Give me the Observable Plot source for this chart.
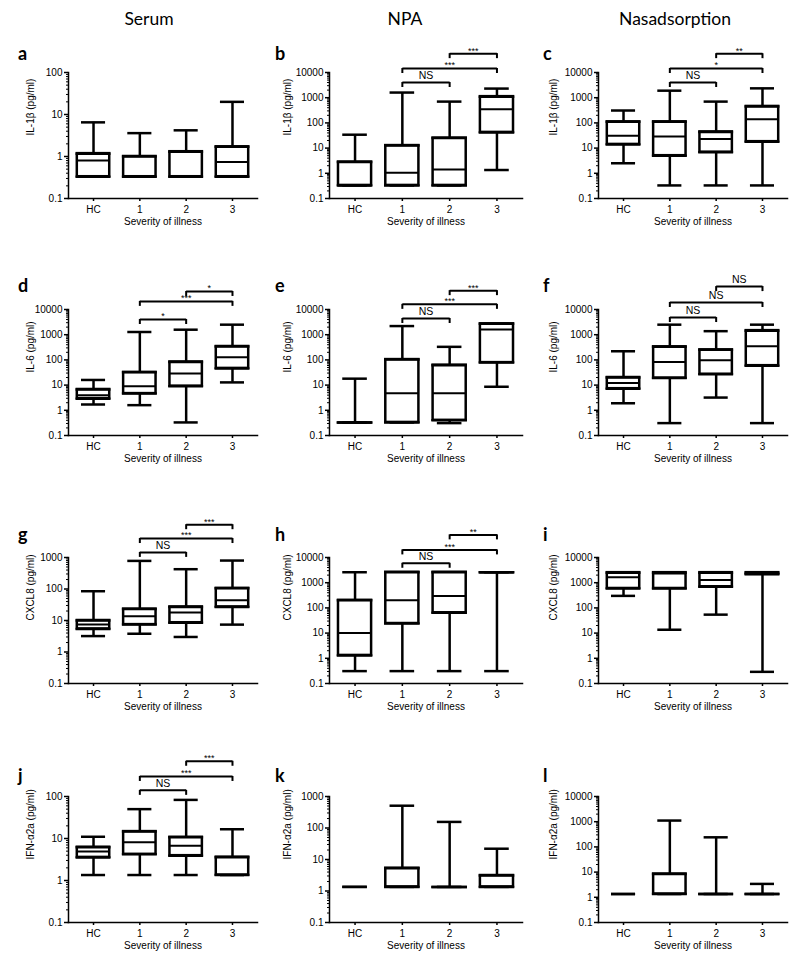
<!DOCTYPE html>
<html><head><meta charset="utf-8">
<script src="https://cdn.jsdelivr.net/npm/d3@7"></script>
<script src="https://cdn.jsdelivr.net/npm/@observablehq/plot@0.6"></script>
<style>
body{margin:0;background:#fff;}
#wrap{position:relative;width:800px;height:966px;overflow:hidden;background:#fff;}
</style></head><body><div id="wrap"></div>
<script>
// ---- data ----
const groups = ["HC", "1", "2", "3"];
const columnTitles = ["Serum", "NPA", "Nasadsorption"];
const panelLetters = ["a","b","c","d","e","f","g","h","i","j","k","l"];
const yLabels = [
  "IL-1β (pg/ml)","IL-1β (pg/ml)","IL-1β (pg/ml)",
  "IL-6 (pg/ml)","IL-6 (pg/ml)","IL-6 (pg/ml)",
  "CXCL8 (pg/ml)","CXCL8 (pg/ml)","CXCL8 (pg/ml)",
  "IFN-α2a (pg/ml)","IFN-α2a (pg/ml)","IFN-α2a (pg/ml)"];
const yMaxes = [100, 10000, 10000, 10000, 10000, 10000, 1000, 10000, 10000, 100, 1000, 10000];
const xTitle = "Severity of illness";

// box stats per group: [min, q1, median, q3, max]
const statsA = [[0.33,0.33,0.8,1.17,6.5],[0.33,0.33,0.33,1.0,3.6],[0.33,0.33,0.33,1.3,4.2],[0.33,0.33,0.74,1.7,20]];
const statsB = [[0.33,0.33,0.33,2.8,34],[0.33,0.33,1.05,12.6,1600],[0.33,0.33,1.4,25,700],[1.35,42,350,1100,2300]];
const statsC = [[2.5,14,31,110,310],[0.33,5.0,29,110,1900],[0.33,6.9,23,44,700],[0.33,18,140,450,2350]];
const statsD = [[1.7,2.9,4.0,6.7,16],[1.6,4.6,9.1,32,1280],[0.33,9.1,29,83,1580],[12.8,46,128,340,2500]];
const statsE = [[0.33,0.33,0.33,0.33,18],[0.33,0.33,4.7,103,2200],[0.31,0.4,4.7,62,330],[8.6,78,1600,2700,2700]];
const statsF = [[1.9,7.2,12,20,220],[0.31,19,83,330,2500],[3.2,27,96,250,1380],[0.31,59,345,1450,2500]];
const statsG = [[3.2,5.4,7.5,10,85],[3.8,7.4,13.6,23,780],[3.0,8.5,18,27,425],[7.4,27,44,105,800]];
const statsH = [[0.31,1.3,10,200,2600],[0.31,24,200,2600,2600],[0.31,64,300,2600,2600],[0.31,2600,2600,2600,2600]];
const statsI = [[300,590,1630,2500,2500],[13.6,590,2300,2500,2500],[54,690,1290,2500,2500],[0.29,2150,2300,2500,2500]];
const statsJ = [[1.35,3.55,4.9,6.2,11],[1.35,4.2,8.1,14.6,50],[1.35,3.9,6.7,10.7,83],[1.35,1.35,1.35,3.6,16.6]];
const statsK = [[1.35,1.35,1.35,1.35,1.35],[1.35,1.35,1.35,5.3,510],[1.35,1.35,1.35,1.35,156],[1.35,1.35,1.35,3.1,22]];
const statsL = [[1.35,1.35,1.35,1.35,1.35],[1.35,1.35,1.35,8.4,1110],[1.35,1.35,1.35,1.35,240],[1.35,1.35,1.35,1.35,3.4]];

// significance brackets: [from, to, level (pg/ml), label]
const bracketsA = [];
const bracketsB = [["2","3",56000,"***"],["1","3",14400,"***"],["1","2",4000,"NS"]];
const bracketsC = [["2","3",56000,"**"],["1","3",14400,"*"],["1","2",4000,"NS"]];
const bracketsD = [["2","3",52000,"*"],["1","3",21000,"***"],["1","2",4000,"*"]];
const bracketsE = [["2","3",56000,"***"],["1","3",16000,"***"],["1","2",4400,"NS"]];
const bracketsF = [["2","3",81000,"NS"],["1","3",19000,"NS"],["1","2",4800,"NS"]];
const bracketsG = [["2","3",11000,"***"],["1","3",4000,"***"],["1","2",1450,"NS"]];
const bracketsH = [["2","3",79000,"**"],["1","3",20000,"***"],["1","2",5900,"NS"]];
const bracketsI = [];
const bracketsJ = [["2","3",690,"***"],["1","3",300,"***"],["1","2",140,"NS"]];
const bracketsK = [];
const bracketsL = [];

const allStats = [statsA,statsB,statsC,statsD,statsE,statsF,statsG,statsH,statsI,statsJ,statsK,statsL];
const allBrackets = [bracketsA,bracketsB,bracketsC,bracketsD,bracketsE,bracketsF,bracketsG,bracketsH,bracketsI,bracketsJ,bracketsK,bracketsL];

// ---- layout ----
const wrap = document.getElementById("wrap");
const rowTops = [72, 309, 557, 796];
const colLefts = [0, 265, 530];
const colMarginLeft = [68, 64, 68];
const colPlotWidth = [189, 193, 189];
const colYLabelDx = [-38, -42, -45];
const MT = 50, PH = 126, MB = 38, W = 265;
const boxHalf = 0.35, capHalf = 0.26;
const FONT = "'Liberation Sans', Arial, sans-serif";

// overlay with column titles and panel letters
const ns = "http://www.w3.org/2000/svg";
const over = document.createElementNS(ns, "svg");
over.setAttribute("width", 800); over.setAttribute("height", 966);
over.style.position = "absolute"; over.style.left = "0"; over.style.top = "0";
wrap.appendChild(over);
function addText(x, y, str, attrs) {
  const t = document.createElementNS(ns, "text");
  t.setAttribute("x", x); t.setAttribute("y", y);
  for (const k in attrs) t.setAttribute(k, attrs[k]);
  t.textContent = str; over.appendChild(t);
}
const titleX = [149, 405, 675];
columnTitles.forEach((t, c) => addText(titleX[c], 25, t, {"text-anchor":"middle","font-family":"Lato, 'Open Sans', sans-serif","font-size":17.5,"fill":"#000"}));
const letterX = [18, 275, 543];
const letterBase = [60, 292, 541, 782];

allStats.forEach((stats, k) => {
  const r = Math.floor(k / 3), c = k % 3;
  addText(letterX[c], letterBase[r], panelLetters[k], {"font-family":"Lato, 'Open Sans', sans-serif","font-size":18,"font-weight":"bold","fill":"#000"});

  const rows = groups.map((g, i) => ({g, i, min: stats[i][0], q1: stats[i][1], med: stats[i][2], q3: stats[i][3], max: stats[i][4]}));
  const boxes = rows.filter(d => d.max > d.min);
  const br = allBrackets[k].map(([from, to, y, label]) => ({i1: groups.indexOf(from), i2: groups.indexOf(to), y, label}));
  const feet = br.flatMap(d => [{i: d.i1, y: d.y}, {i: d.i2, y: d.y}]);
  const ymax = yMaxes[k];
  const majors = [];
  for (let v = 0.1; v <= ymax * 1.001; v *= 10) majors.push(+v.toPrecision(3));
  const minors = majors.slice(0, -1).flatMap(v => d3.range(2, 10).map(m => +(v * m).toPrecision(3)));
  const ml = colMarginLeft[c], pw = colPlotWidth[c];

  const svg = Plot.plot({
    width: W, height: MT + PH + MB,
    marginTop: MT, marginBottom: MB, marginLeft: ml, marginRight: W - ml - pw,
    style: {fontFamily: FONT, fontSize: "10px", color: "#000", background: "transparent"},
    x: {type: "linear", domain: [-0.54, 3.54]},
    y: {type: "log", domain: [0.1, ymax]},
    marks: [
      Plot.axisY({ticks: minors, tickSize: 2, tickFormat: () => "", label: null, strokeWidth: 1}),
      Plot.axisY({ticks: majors, tickSize: 4, tickPadding: 2, tickFormat: v => v < 1 ? "0.1" : String(v), label: null, strokeWidth: 1.5, fontSize: 10}),
      Plot.axisX({ticks: [0, 1, 2, 3], tickSize: 3, tickPadding: 4, tickFormat: i => groups[i], label: null, strokeWidth: 1.5, fontSize: 10}),
      Plot.frame({anchor: "left", strokeWidth: 1.5}),
      Plot.frame({anchor: "bottom", strokeWidth: 1.5}),
      // whiskers
      Plot.ruleX(rows, {x: "i", y1: "q3", y2: "max", strokeWidth: 2.5}),
      Plot.ruleX(rows, {x: "i", y1: "min", y2: "q1", strokeWidth: 2.5}),
      Plot.ruleY(rows, {y: "max", x1: d => d.i - capHalf, x2: d => d.i + capHalf, strokeWidth: 2.5}),
      Plot.ruleY(rows, {y: "min", x1: d => d.i - capHalf, x2: d => d.i + capHalf, strokeWidth: 2.5}),
      // boxes
      Plot.rect(boxes, {x1: d => d.i - boxHalf, x2: d => d.i + boxHalf, y1: "q1", y2: "q3", fill: "white", stroke: "black", strokeWidth: 2.5}),
      Plot.ruleY(boxes, {y: "q1", x1: d => d.i - boxHalf, x2: d => d.i + boxHalf, strokeWidth: 2.5, strokeLinecap: "square"}),
      Plot.ruleY(boxes, {y: "q3", x1: d => d.i - boxHalf, x2: d => d.i + boxHalf, strokeWidth: 2.5, strokeLinecap: "square"}),
      Plot.ruleY(boxes, {y: "med", x1: d => d.i - boxHalf, x2: d => d.i + boxHalf, strokeWidth: 2}),
      // significance brackets
      Plot.link(br, {x1: "i1", x2: "i2", y1: "y", y2: "y", strokeWidth: 2}),
      Plot.ruleX(feet, {x: "i", y1: "y", y2: "y", insetBottom: -5, strokeWidth: 2}),
      Plot.text(br.filter(d => d.label === "NS"), {x: d => (d.i1 + d.i2) / 2, y: "y", text: "label", dy: -7, fontSize: 10.5}),
      Plot.text(br.filter(d => d.label !== "NS"), {x: d => (d.i1 + d.i2) / 2, y: "y", text: "label", dy: -3, fontSize: 9}),
      // axis titles
      Plot.text([yLabels[k]], {frameAnchor: "left", dx: colYLabelDx[c], rotate: -90, fontSize: 10}),
      Plot.text([xTitle], {frameAnchor: "bottom", dy: 26, fontSize: 10})
    ]
  });
  svg.style.position = "absolute";
  svg.style.left = colLefts[c] + "px";
  svg.style.top = (rowTops[r] - MT) + "px";
  wrap.appendChild(svg);
});
</script>
</body></html>
